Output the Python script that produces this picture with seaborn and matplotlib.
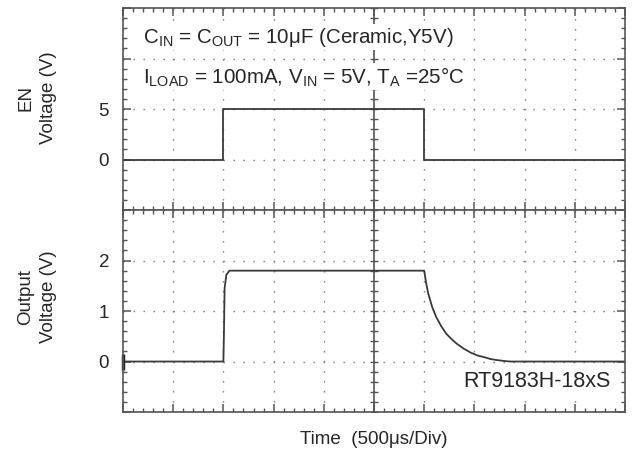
import numpy as np
import matplotlib
matplotlib.use('Agg')
import matplotlib.pyplot as plt
import seaborn as sns
from matplotlib.ticker import MultipleLocator, FixedLocator, FixedFormatter

sns.set_theme(style='white')
plt.rcParams['font.family'] = ['Liberation Sans', 'DejaVu Sans']
plt.rcParams['mathtext.fontset'] = 'custom'
plt.rcParams['mathtext.rm'] = 'Liberation Sans'

# EN pulse (time in us, volts)
en_time = [0, 1000, 1000, 3000, 3000, 5000]
en_volt = [0, 0, 5, 5, 0, 0]

# output voltage trace
out_time = [0, 1000, 1005, 1012, 1030, 1060, 3000, 3020, 3040, 3080, 3120, 3170,
            3220, 3270, 3320, 3390, 3460, 3530, 3600, 3660, 3720, 3800, 3860, 5000]
out_volt = [0, 0, 0.5, 1.45, 1.72, 1.8, 1.8, 1.55, 1.35, 1.08, 0.88, 0.70,
            0.55, 0.45, 0.36, 0.26, 0.18, 0.12, 0.085, 0.05, 0.03, 0.01, 0.0, 0.0]

top_ticks = [-5, 0, 5, 10, 15]
top_labels = ['', '0', '5', '', '']
bot_ticks = [-1, 0, 1, 2, 3]
bot_labels = ['', '0', '1', '2', '']

frame_col = '#555555'
trace_col = '#3a3a3a'
fs = 13.5
fs_note = 14.8

fig = plt.figure(figsize=(6.39, 4.70), dpi=100)
ax1 = fig.add_axes([0.1925, 0.553, 0.7855, 0.430])
ax2 = fig.add_axes([0.1925, 0.1234, 0.7855, 0.4296])

sns.lineplot(x=en_time, y=en_volt, ax=ax1, estimator=None, sort=False,
             color=trace_col, lw=1.3)
sns.lineplot(x=out_time, y=out_volt, ax=ax2, estimator=None, sort=False,
             color=trace_col, lw=1.3)

for ax, ticks, labels, lim, step in [(ax1, top_ticks, top_labels, (-5, 15), 1.0),
                                     (ax2, bot_ticks, bot_labels, (-1, 3), 0.2)]:
    ax.set_xlim(0, 5000)
    ax.set_ylim(*lim)
    ax.xaxis.set_major_locator(MultipleLocator(500))
    ax.xaxis.set_minor_locator(MultipleLocator(100))
    ax.yaxis.set_major_locator(FixedLocator(ticks))
    ax.yaxis.set_major_formatter(FixedFormatter(labels))
    ax.yaxis.set_minor_locator(MultipleLocator(step))
    ax.tick_params(which='both', direction='in', top=True, bottom=True,
                   left=True, right=True, labelbottom=False, color=frame_col)
    ax.tick_params(which='major', length=6, width=1.1, labelsize=fs, pad=10)
    ax.tick_params(which='minor', length=3, width=1.0)
    ax.grid(True, which='major', color='#777777', lw=1.0, linestyle=(0, (1, 6.2)))
    for s in ax.spines.values():
        s.set_color(frame_col)
        s.set_linewidth(1.2)
    # center vertical line with cross ticks
    ax.axvline(2500, color=frame_col, lw=1.2, zorder=1)
    ys = np.arange(lim[0], lim[1] + step / 2, step)
    ax.plot([2500] * len(ys), ys, linestyle='none', marker='_', ms=6,
            mew=1.0, color=frame_col, zorder=1)
    ax.set_facecolor('white')

ax1.set_xlabel('')
ax1.set_ylabel('EN\nVoltage (V)', fontsize=fs, linespacing=1.45)
ax1.yaxis.set_label_coords(-0.131, 0.555)
ax2.set_ylabel('Output\nVoltage (V)', fontsize=fs, linespacing=1.45)
ax2.yaxis.set_label_coords(-0.131, 0.57)
ax2.set_xlabel('Time  (500\u03bcs/Div)', fontsize=fs)
ax2.xaxis.set_label_coords(0.5, -0.095)

# ground marker
ax2.plot([0], [0], marker='|', ms=12, mew=2.5, color='#222222', clip_on=False)

ax1.text(0.04, 0.855, r'C$_{\mathregular{IN}}$ = C$_{\mathregular{OUT}}$ = 10$\mathregular{\mu}$F (Ceramic,Y5V)',
         transform=ax1.transAxes, fontsize=fs_note, va='center', ha='left',
         bbox=dict(facecolor='white', edgecolor='none', pad=1))
ax1.text(0.04, 0.66, r'I$_{\mathregular{LOAD}}$ = 100mA, V$_{\mathregular{IN}}$ = 5V, T$_{\mathregular{A}}$ =25$\mathregular{\degree}$C',
         transform=ax1.transAxes, fontsize=fs_note, va='center', ha='left',
         bbox=dict(facecolor='white', edgecolor='none', pad=1))
ax2.text(0.972, 0.15, 'RT9183H-18xS', transform=ax2.transAxes, fontsize=15.5,
         va='center', ha='right', bbox=dict(facecolor='white', edgecolor='none', pad=1))

fig.savefig('out.png', dpi=100, facecolor='white')
